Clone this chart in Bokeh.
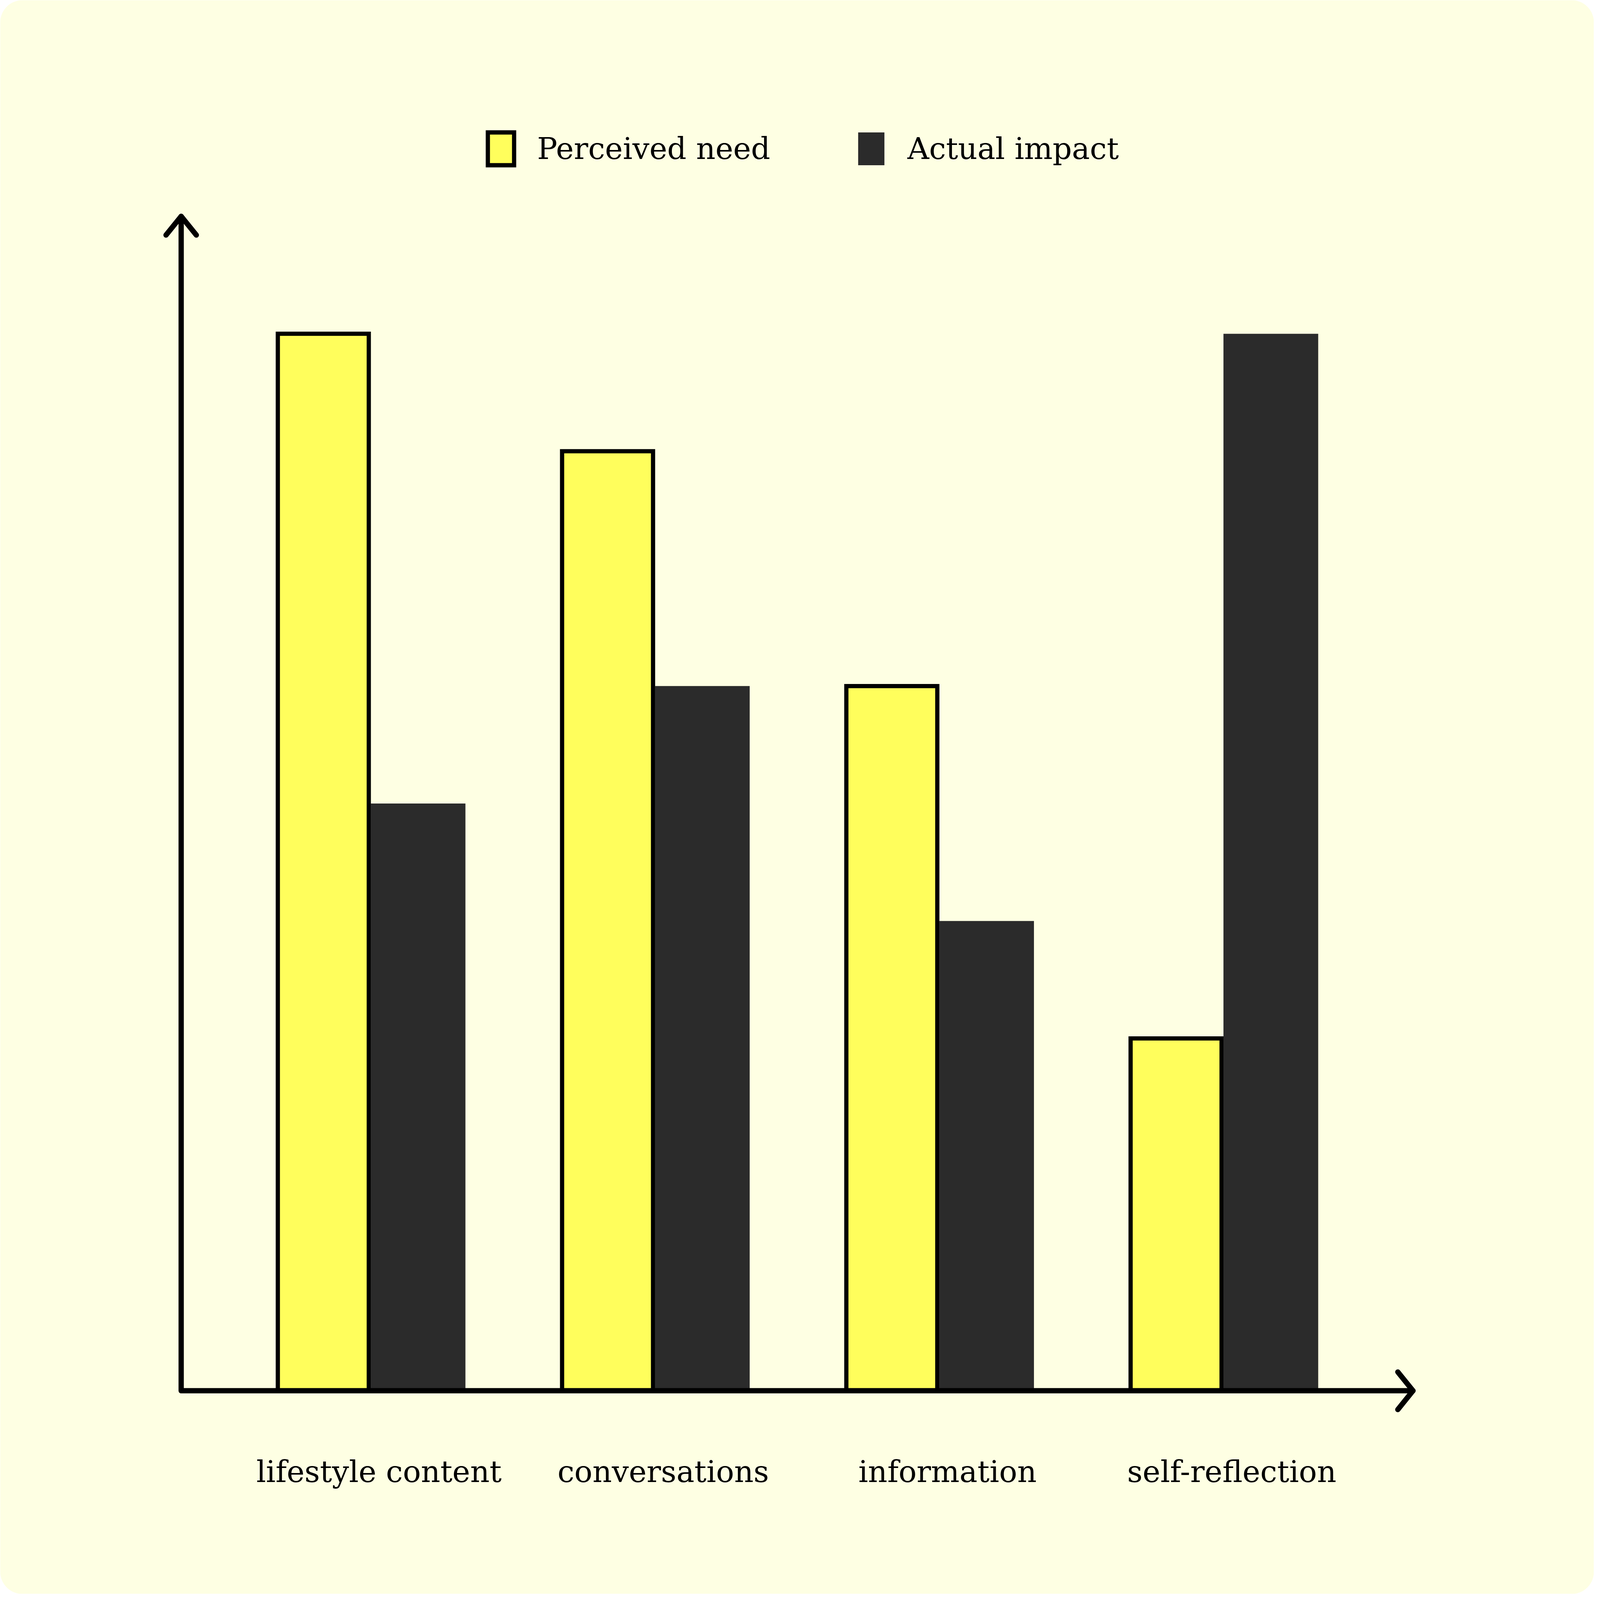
from bokeh.plotting import figure
from bokeh.models import Range1d, ColumnDataSource, Legend, LegendItem, BoxAnnotation
from bokeh.core.properties import value
from bokeh.transform import dodge
from bokeh.embed import file_html
from bokeh.resources import INLINE

# ---- data ----
categories = ["lifestyle content", "conversations", "information", "self-reflection"]
perceived_need = [9, 8, 6, 3]
actual_impact = [5, 6, 4, 9]
series_names = ["Perceived need", "Actual impact"]

# ---- style / layout (design units are reference pixels, scaled to the window) ----
BG = "#FEFFE3"
YELLOW = "#FFFE5C"
DARK = "#2B2B2B"
FONT = "DejaVu Serif"
REF_W, REF_H = 6728, 5428
W, H = 4080, 4080             # visible window is 4096 x 4096
KX, KY = W / REF_W, H / REF_H
KM = (KX * KY) ** 0.5
PX_X = 1200.0                 # design px per category unit
PX_Y = 400.0                  # design px per value unit
X0_PX, Y0_PX = 1564.0, 4736.0 # design px of first group centre / baseline
FONT_PX = 77

p = figure(width=W, height=H, output_backend="svg", toolbar_location=None,
           x_range=Range1d(-X0_PX / PX_X, (REF_W - X0_PX) / PX_X),
           y_range=Range1d((Y0_PX - REF_H) / PX_Y, Y0_PX / PX_Y),
           x_axis_location=None, y_axis_location=None, min_border=0)
p.grid.visible = False
p.outline_line_color = None
p.background_fill_color = "white"
p.border_fill_color = "white"

p.add_layout(BoxAnnotation(fill_color=BG, fill_alpha=1, line_color=None,
                           border_radius=int(round(85 * KM)), level="underlay"))

src = ColumnDataSource(dict(x=list(range(len(categories))), cat=categories,
                            need=perceived_need, impact=actual_impact))

bw = 1.0 / 3.0
r_need = p.vbar(x=dodge("x", -bw / 2, range=p.x_range), top="need", bottom=0,
                width=bw - 16 / PX_X, fill_color=YELLOW, line_color="black",
                line_width=16 * KM, line_join="miter", source=src)
r_imp = p.vbar(x=dodge("x", bw / 2, range=p.x_range), top="impact", bottom=0,
               width=bw, fill_color=DARK, line_color=None, source=src)

# ---- hand-drawn axes with open arrow heads ----
AX_X0, AX_X1 = -2.0 / 3.0, 11.0 / 3.0
AX_Y1 = 10.0
p.line([AX_X0, AX_X0, AX_X1], [AX_Y1, 0, 0], line_color="black", line_width=20 * KM,
       line_join="round", line_cap="round")
hx, hy = 64 / PX_X, 64 / PX_Y
p.multi_line(xs=[[AX_X0 - hx, AX_X0, AX_X0 + hx], [AX_X1 - hx, AX_X1, AX_X1 - hx]],
             ys=[[AX_Y1 - hy, AX_Y1, AX_Y1 - hy], [hy, 0, -hy]],
             line_color="black", line_width=20 * KM, line_join="round", line_cap="round")

# ---- category labels ----
p.text(x=dodge("x", 35 / PX_X, range=p.x_range), y=-276 / PX_Y, text="cat", source=src,
       text_font=value(FONT), text_font_size=f"{FONT_PX}px", text_color="black",
       text_align="center", text_baseline="alphabetic")

# ---- legend ----
gw, gh = int(round(139 * KX)), int(round(140 * KY))
legend = Legend(items=[LegendItem(label=series_names[0], renderers=[r_need]),
                       LegendItem(label=series_names[1], renderers=[r_imp])],
                orientation="horizontal",
                location=(int(round(2045 * KX)), int(round((REF_H - 436 - 140) * KY))),
                glyph_width=gw, glyph_height=gh,
                label_standoff=int(round(84 * KX)), spacing=216,
                padding=0, margin=0, background_fill_alpha=0, border_line_color=None,
                label_text_font=FONT, label_text_font_size=f"{FONT_PX}px",
                label_text_color="black", label_height=gh)
p.add_layout(legend, "center")

open("out.html", "w").write(file_html(p, INLINE))
